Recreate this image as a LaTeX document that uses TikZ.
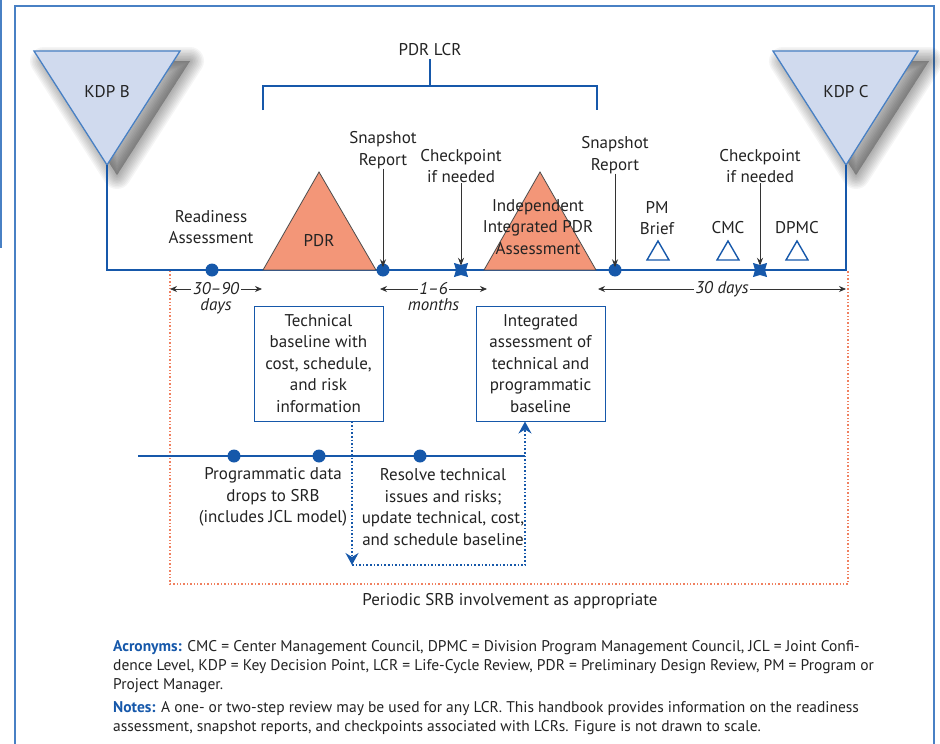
\documentclass[tikz,border=0pt]{standalone}
\usepackage{fontspec}
\setmainfont{PT Sans}
\usepackage{tikz}
\usetikzlibrary{positioning,shapes.geometric,arrows.meta}
\definecolor{lineblue}{RGB}{22,88,170}
\definecolor{frameblue}{RGB}{72,128,196}
\definecolor{kdpfill}{RGB}{208,218,238}
\definecolor{pdrfill}{RGB}{243,150,120}
\definecolor{srborange}{RGB}{240,128,96}
\definecolor{textgray}{RGB}{35,35,35}

\begin{document}
\begin{tikzpicture}[x=1pt,y=-1pt,
    every node/.style={font=\fontsize{17}{21.5}\selectfont, align=center, inner sep=0pt, text=textgray},
    frame/.style={draw=frameblue, line width=1.4pt},
    kdp/.style={draw=frameblue, fill=kdpfill, line width=1.3pt},
    review/.style={draw=black!70, fill=pdrfill, line width=0.8pt},
    smalltri/.style={draw=lineblue, line width=1.4pt},
    tline/.style={draw=lineblue, line width=2.2pt},
    dot/.style={circle, fill=lineblue, minimum size=13pt},
    chk/.style={star, star points=4, star point ratio=0.5, fill=lineblue, minimum size=10pt},
    pointer/.style={draw=black!80, line width=0.8pt, -{Stealth[length=8pt,width=6pt]}},
    dim/.style={draw=black!80, line width=0.8pt, {Stealth[length=7pt,width=6pt]}-{Stealth[length=7pt,width=6pt]}},
    infobox/.style={draw=lineblue, line width=1pt, minimum width=129pt, minimum height=115pt, fill=white},
    feedback/.style={draw=lineblue, line width=1.6pt, dotted, -{Stealth[length=12pt,width=13pt,inset=4pt]}},
    srb/.style={draw=srborange, line width=1.4pt, dotted},
    notetext/.style={anchor=north west, align=left, font=\fontsize{15.5}{19}\selectfont}
]
\useasboundingbox (0,0) rectangle (940,744);

% page frame
\draw[frame] (15,746) -- (15,6) -- (934,6) -- (934,746);
\draw[frame] (1,0) -- (1,248);

% key decision points (soft shadow first)
\foreach \dx in {0,739}
  \foreach \w in {28,25,22,19,16,13,10,7,4,1}
    \draw[black, opacity=0.04, line width=\w pt, line join=round, fill=black, fill opacity=0.03]
      (34+\dx+10,51+10) -- (180+\dx+10,51+10) -- (107+\dx+10,165+10) -- cycle;
\draw[kdp] (34,51) -- (180,51) -- (107,165) -- cycle;
\draw[kdp] (773,51) -- (918,51) -- (846,165) -- cycle;
\node (kdpb) at (107,92) {KDP B};
\node (kdpc) at (846,92) {KDP C};
\coordinate (kdpbtip) at (107,165);
\coordinate (kdpctip) at (846,165);

% SRB involvement
\draw[srb] (170,271) -- (170,584) -- (848,584) -- (848,271);
\node (srbtext) at (510,601) {Periodic SRB involvement as appropriate};

% main timeline
\draw[tline] (kdpbtip) -- (107,270) -- (846,270) -- (kdpctip);

% PDR LCR bracket
\node (lcr) at (430,50) {PDR LCR};
\draw[tline, line width=1.8pt] (263,110) -- (263,86) -- (597,86) -- (597,110);
\draw[tline, line width=1.8pt] (lcr.south) ++(0,3) -- (430,86);

% review triangles
\draw[review] (263,270) -- (319,172) -- (376,270) -- cycle;
\node (pdr) at (319,241) {PDR};
\draw[review] (484,270) -- (540,172) -- (596,270) -- cycle;
\node (ipa) at (538,227) {Independent\\Integrated PDR\\Assessment};

% events on timeline
\node[dot] (ra) at (212,270) {};
\node[dot] (ss1) at (383,270) {};
\node[dot] (ss2) at (615,270) {};
\node[chk] (cp1) at (461,270) {};
\node[chk] (cp2) at (760,270) {};
\node (ratext) at (211,227) {Readiness\\Assessment};
\node (ss1text) at (383,150) {Snapshot\\Report};
\node (ss2text) at (615,155) {Snapshot\\Report};
\node (cp1text) at (461,166) {Checkpoint\\if needed};
\node (cp2text) at (760,166) {Checkpoint\\if needed};
\draw[pointer] (ss1text) -- ([yshift=-4pt]ss1.north);
\draw[pointer] (ss2text) -- ([yshift=-4pt]ss2.north);
\draw[pointer] (cp1text) -- ([yshift=-1pt]cp1.north);
\draw[pointer] (cp2text) -- ([yshift=-1pt]cp2.north);

% management briefings
\foreach \x/\n in {658/pm,728/cmc,797/dpmc}
    \draw[smalltri] (\x,241) -- (\x-11,260) -- (\x+11,260) -- cycle;
\node (pmtext) at (657,218) {PM\\Brief};
\node (cmctext) at (728,228) {CMC};
\node (dpmctext) at (797,228) {DPMC};

% durations
\draw[dim] (170,289) -- node[fill=white, inner xsep=1.5pt] (d1) {\itshape 30--90} (262,289);
\node[below=3pt of d1] {\itshape days};
\draw[dim] (380,289) -- node[fill=white, inner xsep=1.5pt] (d2) {\itshape 1--6} (487,289);
\node[below=3pt of d2] {\itshape months};
\draw[dim] (598,289) -- node[fill=white, inner xsep=1.5pt] (d3) {\itshape 30 days} (846,289);

% baselines
\node[infobox] (tech) at (318.5,363.5) {Technical\\baseline with\\cost, schedule,\\and risk\\information};
\node[infobox] (integ) at (540.5,363.5) {Integrated\\assessment of\\technical and\\programmatic\\baseline};

% SRB data timeline
\draw[tline] (138,456) -- (525,456);
\foreach \x/\n in {234/pd1,319/pd2,420/rs}
    \node[dot] (\n) at (\x,456) {};
\node (drops) at (273,497) {Programmatic data\\drops to SRB\\(includes JCL model)};
\node (resolve) at (443,507) {Resolve technical\\issues and risks;\\update technical, cost,\\and schedule baseline};

\coordinate (fb1) at (352,565);
\coordinate (fb2) at (525,565);
\draw[feedback] (tech.south -| fb1) -- (fb1);
\draw[feedback] (fb1) -- (fb2) -- (integ.south -| fb2);

% notes
\node[notetext] (acro) at (113,640)
    {\textcolor{lineblue}{\bfseries Acronyms:} CMC = Center Management Council, DPMC = Division Program Management Council, JCL = Joint Confi-\\
     dence Level, KDP = Key Decision Point, LCR = Life-Cycle Review, PDR = Preliminary Design Review, PM = Program or\\
     Project Manager.};
\node[notetext] (notes) at (113,701)
    {\textcolor{lineblue}{\bfseries Notes:} A one- or two-step review may be used for any LCR. This handbook provides information on the readiness\\
     assessment, snapshot reports, and checkpoints associated with LCRs. Figure is not drawn to scale.};
\end{tikzpicture}
\end{document}
